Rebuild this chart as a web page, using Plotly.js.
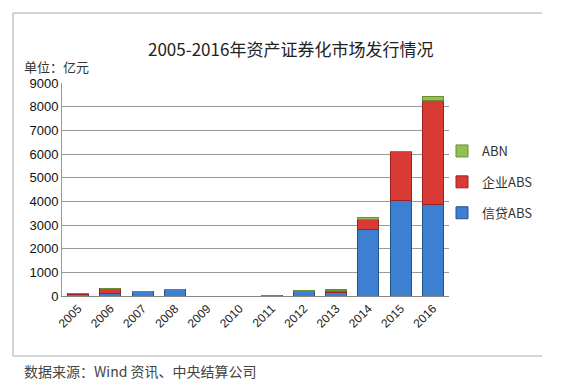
<!DOCTYPE html>
<html><head><meta charset="utf-8">
<script src="https://cdn.plot.ly/plotly-3.0.1.min.js"></script>
<style>html,body{margin:0;padding:0;background:#fff;}#chart{width:567px;height:385px;}</style>
</head><body><div id="chart"></div>
<script>
const years = ['2005','2006','2007','2008','2009','2010','2011','2012','2013','2014','2015','2016'];
const creditABS = [60, 115, 178, 290, 0, 0, 13, 193, 158, 2820, 4056, 3868];
const corpABS   = [25, 196, 0, 0, 0, 0, 0, 0, 78, 400, 2042, 4385];
const abn       = [0, 0, 0, 0, 0, 0, 0, 57, 40, 89, 5, 166];
const yTicks = [0,1000,2000,3000,4000,5000,6000,7000,8000,9000];

const cjk = '"Noto Sans CJK SC", "Liberation Sans", sans-serif';
const traces = [
  {type:'bar', name:'信贷ABS', legendgroup:'a', legendrank:3, x:years, y:creditABS,
   marker:{color:'#3d7fd0', line:{color:'#24558f', width:1}}},
  {type:'bar', name:'企业ABS', legendgroup:'b', legendrank:2, x:years, y:corpABS,
   marker:{color:'#d93a35', line:{color:'#9c2420', width:1}}},
  {type:'bar', name:'ABN', legendgroup:'c', legendrank:1, x:years, y:abn,
   marker:{color:'#94c04f', line:{color:'#6a8f35', width:1}}}
];
const L=62, R=449, T=83, B=296, W=R-L, H=B-T;
const px = v => (v-L)/W, py = v => (B-v)/H;
const layout = {
  width:567, height:385,
  margin:{l:L, r:567-R, t:T, b:385-B},
  paper_bgcolor:'#ffffff', plot_bgcolor:'#ffffff',
  barmode:'stack', bargap:0.35,
  showlegend:true,
  legend:{x:px(442), y:py(136), xanchor:'left', yanchor:'top', traceorder:'grouped',
    tracegroupgap:11, font:{family:cjk, size:13, color:'#333'}, bgcolor:'rgba(0,0,0,0)'},
  xaxis:{type:'category', tickangle:-45, tickfont:{family:'"Liberation Sans", Arial, sans-serif', size:12, color:'#222'},
    showline:true, linecolor:'#888', linewidth:1, ticks:'', showgrid:false},
  yaxis:{range:[0,9000], tickvals:yTicks, ticktext:yTicks.map(String),
    tickfont:{family:'"Liberation Sans", Arial, sans-serif', size:13, color:'#111'},
    showgrid:true, gridcolor:'#999', gridwidth:1, showline:true, linecolor:'#999', zeroline:false, ticks:'', ticklen:0},
  shapes:[
    {type:'line', xref:'paper', yref:'paper', x0:px(13), x1:px(542), y0:py(13), y1:py(13), line:{color:'#aaaaaa', width:1}},
    {type:'line', xref:'paper', yref:'paper', x0:px(13), x1:px(13), y0:py(13), y1:py(356), line:{color:'#aaaaaa', width:1}},
    {type:'line', xref:'paper', yref:'paper', x0:px(13), x1:px(542), y0:py(356), y1:py(356), line:{color:'#aaaaaa', width:1}}
  ],
  annotations:[
    {text:'2005-2016年资产证券化市场发行情况', xref:'paper', yref:'paper', x:px(290), y:py(48),
     xanchor:'center', yanchor:'middle', showarrow:false, font:{family:cjk, size:17, color:'#222'}},
    {text:'单位：亿元', xref:'paper', yref:'paper', x:px(22), y:py(66), xanchor:'left', yanchor:'middle',
     showarrow:false, font:{family:cjk, size:13, color:'#333'}},
    {text:'数据来源：Wind 资讯、中央结算公司', xref:'paper', yref:'paper', x:px(22), y:py(371), xanchor:'left', yanchor:'middle',
     showarrow:false, font:{family:cjk, size:14, color:'#444'}}
  ]
};
Plotly.newPlot('chart', traces, layout, {displayModeBar:false, staticPlot:true});
</script></body></html>
